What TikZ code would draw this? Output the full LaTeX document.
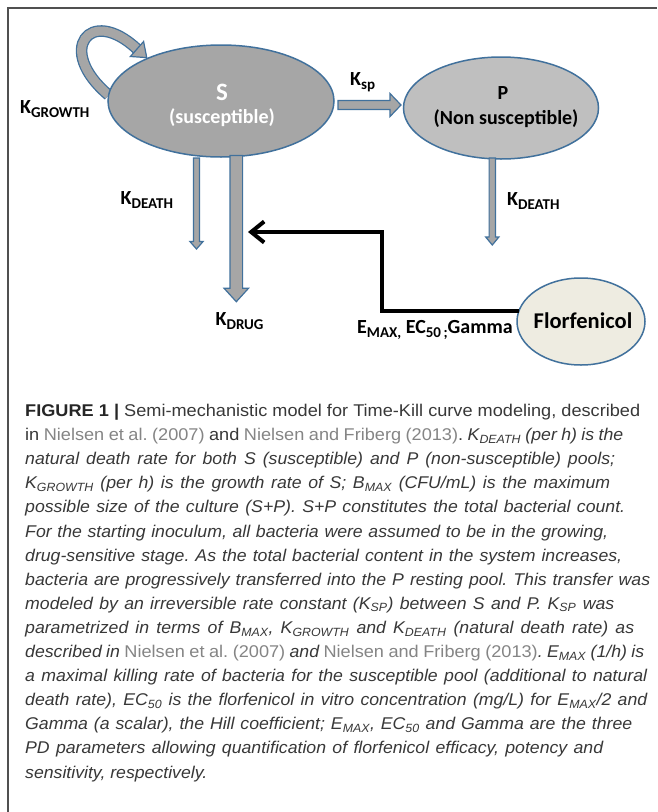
\documentclass[tikz,border=0pt]{standalone}
\usepackage{fontspec}
\setmainfont{Liberation Sans}[UprightFeatures={FakeStretch=1.067}, BoldFeatures={FakeStretch=1.067}, ItalicFeatures={FakeStretch=1.04}]
\newfontfamily\calib{Carlito}
\usetikzlibrary{arrows.meta,calc,shapes.geometric}
\pgfdeclarelayer{background}
\pgfsetlayers{background,main}
\frenchspacing
\definecolor{bordblue}{HTML}{41719C}
\definecolor{sgray}{HTML}{A6A6A6}
\definecolor{pgray}{HTML}{BFBFBF}
\definecolor{agray}{HTML}{A6A6A6}
\definecolor{florbg}{HTML}{EEECE1}
\definecolor{captxt}{HTML}{383838}
\definecolor{citgray}{HTML}{858585}
\definecolor{framegray}{HTML}{505050}
\newcommand\cit[1]{{\upshape\color{citgray}#1}}
\newcommand\sbi[1]{\textsubscript{#1}}
\newcommand\ksb[1]{\raisebox{-4pt}{\fontsize{15}{15}\selectfont #1}}
\newcommand\cl[2]{\makebox[#1pt][s]{#2}}
\newcommand\vblock[5]{\draw[blk] let \p1=(#1),\p2=(#2) in (\x1-#3,\y1) -- (\x1-#3,\y2+#5) -- (\x1-#4,\y2+#5) -- (\x1,\y2) -- (\x1+#4,\y2+#5) -- (\x1+#3,\y2+#5) -- (\x1+#3,\y1) -- cycle;}
\newcommand\hblock[5]{\draw[blk] let \p1=(#1),\p2=(#2) in (\x1,\y1-#3) -- (\x2-#5,\y1-#3) -- (\x2-#5,\y1-#4) -- (\x2,\y1) -- (\x2-#5,\y1+#4) -- (\x2-#5,\y1+#3) -- (\x1,\y1+#3) -- cycle;}
\tikzset{
  pool/.style={ellipse, draw=bordblue, line width=1.5, inner sep=0, outer sep=0},
  blk/.style={draw=bordblue, fill=agray, line width=1.2, line join=miter},
  dlab/.style={font=\calib\bfseries\fontsize{20}{22}\selectfont, inner sep=0, anchor=base west},
  plab/.style={font=\calib\bfseries\fontsize{20}{22}\selectfont, inner sep=0},
  capline/.style={font=\fontsize{17}{19}\selectfont, text=captxt, inner sep=0, anchor=base west},
  conn/.style={line width=4, draw=black, -{Straight Barb[length=13pt,width=21pt]}}
}
\begin{document}
\begin{tikzpicture}[x=1pt,y=-1pt]
\useasboundingbox (0,0) rectangle (657,812);
\begin{pgfonlayer}{background}
\fill[white] (0,0) rectangle (657,812);
\end{pgfonlayer}
\draw[framegray, line width=1.5] (8,812) -- (8,8) -- (657,8);

% pools
\node[pool, fill=sgray, minimum width=226, minimum height=112] (S) at (221,101) {};
\node[pool, fill=pgray, minimum width=195, minimum height=102] (P) at (501,108) {};
\node[pool, fill=florbg, minimum width=128, minimum height=87] (F) at (581,321.5) {};

\node[plab, font=\calib\bfseries\fontsize{25}{27}\selectfont, text=white] (Slab) at (222,92) {S};
\node[plab, text=white] (Ssub) at (222,118) {(susceptible)};
\node[plab] (Plab) at (503,93) {P};
\node[plab] (Psub) at (506,119) {(Non susceptible)};
\node[plab, font=\calib\bfseries\fontsize{22.5}{24}\selectfont] (Flab) at (583,321) {Florfenicol};

% growth loop (behind S)
\begin{pgfonlayer}{background}
\coordinate (gtail) at (S.177);
\coordinate (gbase) at (137,49);
\draw[draw=bordblue, line width=1.3, double=agray, double distance=9] (gtail) .. controls (55,50) and (90,5) .. (gbase);
\draw[blk] (143.6,41.5) -- (146.75,57.6) -- (130.4,56.5) -- cycle;
\end{pgfonlayer}

% block arrows
\coordinate (sdTop) at (196.5,158);
\coordinate (sdTip) at (196.5,249);
\coordinate (drTop) at (236.3,155.5);
\coordinate (drTip) at (236.3,301.7);
\coordinate (pdTop) at (492.3,158);
\coordinate (pdTip) at (492.3,245);
\coordinate (spTail) at (338,105);
\coordinate (spTip) at (401,105);
\vblock{sdTop}{sdTip}{3pt}{6.6pt}{7.5pt}
\vblock{drTop}{drTip}{6.3pt}{12.2pt}{13.4pt}
\vblock{pdTop}{pdTip}{3.2pt}{6.6pt}{8pt}
\hblock{spTail}{spTip}{4.5pt}{11.5pt}{11pt}

% drug effect connector
\coordinate (bend) at (381.5,232);
\coordinate (drugIn) at (248,232);
\draw[conn] (F.170) -| (bend) -- (drugIn);

% labels
\node[dlab] (kgrowth) at (20,113) {K\ksb{GROWTH}};
\node[dlab] (ksp) at (350,85) {K\ksb{sp}};
\node[dlab] (kdeathS) at (120.5,204) {K\ksb{DEATH}};
\node[dlab] (kdrug) at (215.5,325.5) {K\ksb{DRUG}};
\node[dlab] (kdeathP) at (507,205.5) {K\ksb{DEATH}};
\node[dlab] (pdpar) at (357,333) {E\ksb{MAX,} EC\ksb{50\,;}Gamma};

% caption
\node[capline] (c1) at (25,416.5) {\cl{615}{{\bfseries\color{black!85}FIGURE 1 |} Semi-mechanistic model for Time-Kill curve modeling, described}};
\node[capline] (c2) at (25,440.6) {\cl{598}{in \cit{Nielsen et al. (2007)} and \cit{Nielsen and Friberg (2013)}. \textit{K\sbi{DEATH} (per h) is the}}};
\node[capline] (c3) at (25,464.7) {\itshape\cl{590}{natural death rate for both S (susceptible) and P (non-susceptible) pools;}};
\node[capline] (c4) at (25,488.8) {\itshape\cl{585}{K\sbi{GROWTH} (per h) is the growth rate of S; B\sbi{MAX} (CFU/mL) is the maximum}};
\node[capline] (c5) at (25,512.9) {\itshape\cl{600}{possible size of the culture (S+P). S+P constitutes the total bacterial count.}};
\node[capline] (c6) at (25,537.0) {\itshape\cl{583}{For the starting inoculum, all bacteria were assumed to be in the growing,}};
\node[capline] (c7) at (25,561.1) {\itshape\cl{597}{drug-sensitive stage. As the total bacterial content in the system increases,}};
\node[capline] (c8) at (25,585.2) {\itshape\cl{625}{bacteria are progressively transferred into the P resting pool. This transfer was}};
\node[capline] (c9) at (25,609.3) {\itshape\cl{589}{modeled by an irreversible rate constant (K\sbi{SP}) between S and P. K\sbi{SP} was}};
\node[capline] (c10) at (25,633.4) {\itshape\cl{609}{parametrized in terms of B\sbi{MAX}, K\sbi{GROWTH} and K\sbi{DEATH} (natural death rate) as}};
\node[capline] (c11) at (25,657.5) {\itshape\cl{619}{described in \cit{Nielsen et al. (2007)} and \cit{Nielsen and Friberg (2013)}. E\sbi{MAX} (1/h) is}};
\node[capline] (c12) at (25,681.6) {\itshape\cl{622}{a maximal killing rate of bacteria for the susceptible pool (additional to natural}};
\node[capline] (c13) at (25,705.7) {\itshape\cl{622}{death rate), EC\sbi{50} is the florfenicol in vitro concentration (mg/L) for E\sbi{MAX}/2 and}};
\node[capline] (c14) at (25,729.8) {\itshape\cl{607}{Gamma (a scalar), the Hill coefficient; E\sbi{MAX}, EC\sbi{50} and Gamma are the three}};
\node[capline] (c15) at (25,753.9) {\itshape\cl{578}{PD parameters allowing quantification of florfenicol efficacy, potency and}};
\node[capline] (c16) at (25,778.0) {\itshape sensitivity, respectively.};
\end{tikzpicture}
\end{document}
